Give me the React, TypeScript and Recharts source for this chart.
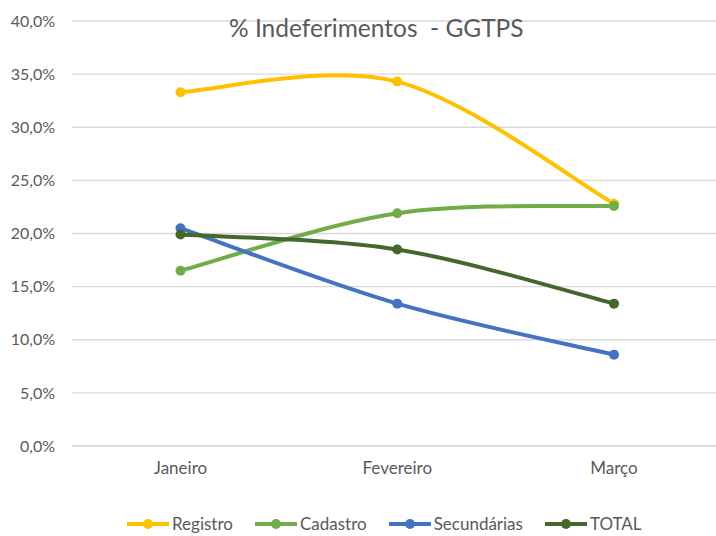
import React from 'react';
import { LineChart, Line, XAxis, YAxis, CartesianGrid } from 'recharts';

const months = ['Janeiro', 'Fevereiro', 'Março'];
const registro = [0.333, 0.343, 0.228];
const cadastro = [0.165, 0.219, 0.226];
const secundarias = [0.205, 0.134, 0.086];
const total = [0.199, 0.185, 0.134];
const yTicks = [0, 0.05, 0.1, 0.15, 0.2, 0.25, 0.3, 0.35, 0.4];

const series = [
  { key: 'Registro', color: '#FFC000', values: registro },
  { key: 'Cadastro', color: '#70AD47', values: cadastro },
  { key: 'Secundárias', color: '#4472C4', values: secundarias },
  { key: 'TOTAL', color: '#43682B', values: total },
];

const data = months.map((m, i) => {
  const row: any = { month: m };
  series.forEach((s) => { row[s.key] = s.values[i]; });
  return row;
});

// Excel-like smoothed line (uniform Catmull-Rom)
const smoothCurve: any = (context: any) => {
  let pts: number[][] = [];
  return {
    areaStart() {},
    areaEnd() {},
    lineStart() { pts = []; },
    lineEnd() {
      const n = pts.length;
      if (!n) return;
      context.moveTo(pts[0][0], pts[0][1]);
      for (let i = 0; i < n - 1; i++) {
        const p0 = pts[Math.max(i - 1, 0)];
        const p1 = pts[i];
        const p2 = pts[i + 1];
        const p3 = pts[Math.min(i + 2, n - 1)];
        context.bezierCurveTo(
          p1[0] + (p2[0] - p0[0]) / 6, p1[1] + (p2[1] - p0[1]) / 6,
          p2[0] - (p3[0] - p1[0]) / 6, p2[1] - (p3[1] - p1[1]) / 6,
          p2[0], p2[1]
        );
      }
    },
    point(x: number, y: number) { pts.push([+x, +y]); },
  };
};

const fmt = (v: number) => (v * 100).toFixed(1).replace('.', ',') + '%';

const LegendRow = () => (
  <div style={{ position: 'absolute', left: 127, top: 514, display: 'flex', gap: 22, lineHeight: '20px' }}>
    {series.map((s) => (
      <div key={s.key} style={{ display: 'flex', alignItems: 'center' }}>
        <svg width={42} height={12}>
          <line x1={0} y1={6} x2={42} y2={6} stroke={s.color} strokeWidth={4} />
          <circle cx={21} cy={6} r={5} fill={s.color} />
        </svg>
        <span style={{ color: '#595959', fontSize: 17, marginLeft: 3 }}>{s.key}</span>
      </div>
    ))}
  </div>
);

export default function App() {
  return (
    <div style={{ position: 'absolute', left: 0, top: 0, width: 716, height: 536, overflow: 'hidden', background: '#fff', fontFamily: 'Lato, sans-serif' }}>
      <div style={{ position: 'absolute', left: 229, top: 14, fontSize: 24.5, lineHeight: '28px', color: '#595959', zIndex: 2, whiteSpace: 'pre' }}>
        {'% Indeferimentos  - GGTPS'}
      </div>
      <LineChart width={730} height={560} data={data} margin={{ top: 21, right: 7.5, left: 0, bottom: 84 }}>
        <CartesianGrid vertical={false} stroke="#d9d9d9" strokeWidth={1.3} />
        <XAxis
          dataKey="month"
          axisLine={{ stroke: '#d9d9d9', strokeWidth: 1.3 }}
          tickLine={false}
          tickSize={0}
          tickMargin={16}
          height={30}
          padding={{ left: 108.5, right: 108.5 }}
          tick={{ fill: '#595959', fontSize: 17 }}
        />
        <YAxis
          domain={[0, 0.4]}
          ticks={yTicks}
          tickFormatter={fmt}
          axisLine={false}
          tickLine={false}
          tickSize={0}
          tickMargin={17}
          width={72}
          tick={{ fill: '#595959', fontSize: 16 }}
        />
        {series.map((s) => (
          <Line
            key={s.key}
            dataKey={s.key}
            type={smoothCurve}
            stroke={s.color}
            strokeWidth={4}
            dot={{ r: 5, fill: s.color, stroke: s.color, strokeWidth: 0 }}
            activeDot={false}
            isAnimationActive={false}
          />
        ))}
      </LineChart>
      <LegendRow />
    </div>
  );
}
